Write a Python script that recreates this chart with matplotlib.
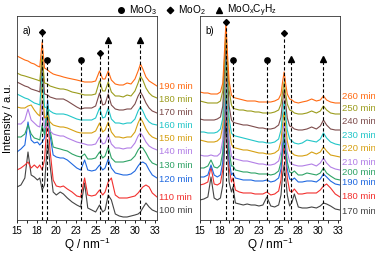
import matplotlib
matplotlib.use("Agg")
import matplotlib.pyplot as plt
from matplotlib.lines import Line2D
from matplotlib.ticker import MultipleLocator, FixedFormatter, FixedLocator

# Q grids (nm^-1) for the two panels
qa = [15.0, 15.5, 16.0, 16.4, 16.8, 17.2, 17.6, 17.9, 18.2, 18.5, 18.9, 19.2, 19.6, 20.0,
      20.5, 20.9, 21.4, 22.0, 22.6, 23.1, 23.6, 24.0, 24.5, 25.0, 25.5, 25.9, 26.2, 26.6,
      27.0, 27.5, 28.0, 28.5, 29.0, 29.5, 30.0, 30.4, 30.7, 31.0, 31.4, 31.8, 32.2, 32.8]
qb = [15.0, 15.5, 16.0, 16.4, 16.8, 17.2, 17.6, 17.9, 18.1, 18.3, 18.5, 18.7, 19.0, 19.2,
      19.5, 20.0, 20.5, 21.0, 21.5, 22.0, 22.5, 23.0, 23.5, 24.0, 24.5, 25.0, 25.3, 25.5,
      25.7, 25.9, 26.1, 26.4, 26.7, 27.0, 27.5, 28.0, 28.6, 29.2, 29.8, 30.3, 30.7, 31.1,
      31.6, 32.2, 32.8]

# panel a) 100-190 min, stacked intensities (a.u.)
a_100 = [33, 35, 42, 68, 45, 43, 40, 42, 30, 35, 80, 55, 28, 25, 28, 26, 22, 18, 15, 13, 37,
         12, 10, 8, 15, 8, 10, 25, 20, 6, 4, 3, 3, 4, 5, 6, 8, 12, 17, 13, 10, 8]
a_110 = [50, 52, 55, 58, 52, 55, 52, 55, 50, 60, 105, 70, 40, 34, 33, 34, 31, 28, 24, 23, 42,
         25, 24, 25, 30, 25, 28, 38, 42, 25, 22, 22, 22, 23, 24, 27, 30, 33, 35, 33, 27, 23]
a_120 = [68, 71, 75, 98, 80, 77, 78, 75, 78, 82, 120, 85, 65, 63, 62, 62, 60, 56, 52, 50, 60,
         50, 49, 50, 55, 50, 52, 61, 52, 47, 46, 45, 45, 46, 49, 54, 57, 58, 56, 50, 45, 42]
a_130 = [83, 83, 86, 95, 86, 82, 81, 80, 95, 85, 115, 90, 73, 72, 71, 70, 69, 66, 64, 63, 66,
         61, 61, 62, 68, 62, 64, 73, 62, 58, 58, 58, 59, 60, 64, 70, 73, 72, 67, 61, 57, 55]
a_140 = [96, 96, 100, 111, 100, 97, 94, 93, 120, 92, 95, 89, 86, 85, 84, 84, 82, 80, 78, 77,
         76, 75, 75, 76, 83, 76, 77, 85, 76, 72, 72, 71, 72, 72, 77, 84, 87, 84, 78, 74, 72, 70]
a_150 = [113, 112, 112, 114, 115, 110, 106, 104, 140, 102, 104, 98, 95, 94, 93, 93, 92, 90, 88,
         87, 87, 87, 87, 89, 97, 88, 90, 98, 88, 83, 83, 82, 83, 83, 88, 97, 102, 98, 91, 86, 83, 81]
a_160 = [126, 124, 122, 121, 119, 117, 116, 115, 150, 113, 112, 109, 107, 106, 106, 106, 105,
         103, 101, 100, 100, 100, 100, 102, 112, 102, 103, 112, 101, 97, 97, 96, 97, 97, 101,
         109, 113, 109, 102, 98, 96, 95]
a_170 = [138, 136, 134, 133, 131, 130, 129, 128, 160, 126, 125, 123, 122, 121, 121, 121, 119,
         116, 113, 111, 112, 112, 112, 114, 127, 115, 116, 126, 115, 111, 110, 110, 111, 111,
         116, 124, 128, 124, 117, 112, 109, 107]
a_180 = [147, 145, 144, 143, 142, 141, 140, 139, 165, 137, 136, 134, 133, 132, 131, 131, 130,
         128, 127, 126, 125, 125, 125, 126, 139, 129, 129, 138, 128, 124, 124, 123, 125, 124,
         129, 137, 144, 140, 132, 127, 124, 122]
a_190 = [164, 162, 160, 159, 157, 156, 154, 153, 178, 152, 150, 148, 146, 145, 144, 143, 142,
         141, 140, 139, 138, 138, 138, 139, 149, 141, 141, 149, 140, 136, 135, 135, 137, 136,
         141, 149, 156, 151, 143, 139, 137, 134]

# panel b) 170-260 min
b_170 = [20, 21, 23, 43, 22, 20, 22, 35, 68, 100, 68, 38, 28, 33, 17, 16, 15, 16, 15, 15, 14,
         15, 23, 14, 13, 15, 25, 45, 55, 42, 25, 14, 18, 26, 13, 12, 12, 13, 12, 14, 17, 16, 14, 11, 10]
b_180 = [35, 36, 38, 53, 36, 35, 37, 50, 86, 118, 86, 52, 38, 42, 30, 28, 27, 27, 27, 26, 26,
         26, 28, 25, 26, 29, 40, 62, 75, 60, 42, 29, 28, 31, 26, 26, 27, 27, 27, 30, 34, 36, 32, 26, 23]
b_190 = [43, 43, 45, 55, 45, 43, 45, 58, 94, 128, 94, 60, 45, 47, 42, 41, 40, 40, 40, 39, 39,
         39, 40, 38, 39, 42, 51, 70, 82, 68, 51, 41, 40, 42, 38, 38, 39, 39, 38, 41, 46, 43, 39, 36, 35]
b_200 = [52, 52, 54, 60, 53, 52, 55, 68, 104, 138, 104, 70, 54, 54, 50, 49, 48, 48, 47, 47, 46,
         46, 46, 45, 46, 49, 58, 76, 88, 74, 58, 48, 47, 49, 45, 45, 47, 46, 45, 47, 52, 47, 44, 41, 40]
b_210 = [65, 64, 64, 65, 64, 64, 67, 80, 116, 148, 116, 80, 64, 62, 61, 60, 59, 59, 58, 57, 56,
         56, 55, 55, 56, 59, 68, 86, 98, 84, 68, 58, 56, 55, 54, 54, 55, 56, 54, 57, 62, 57, 53, 51, 50]
b_220 = [80, 79, 78, 78, 78, 79, 82, 94, 126, 158, 126, 92, 76, 73, 72, 71, 70, 70, 69, 68, 67,
         67, 66, 66, 67, 70, 79, 96, 108, 94, 79, 69, 67, 65, 64, 64, 65, 68, 66, 68, 73, 69, 65, 64, 63]
b_230 = [88, 88, 87, 87, 87, 88, 91, 102, 136, 168, 136, 102, 87, 85, 84, 83, 82, 81, 80, 79, 78,
         78, 77, 77, 78, 81, 90, 106, 118, 104, 90, 81, 79, 77, 76, 77, 80, 79, 78, 81, 87, 82, 78, 76, 75]
b_240 = [101, 100, 100, 100, 100, 101, 103, 114, 146, 178, 146, 114, 100, 98, 97, 96, 95, 95, 94,
         93, 92, 92, 91, 91, 92, 95, 103, 118, 130, 116, 102, 94, 93, 91, 90, 90, 91, 93, 91, 94,
         100, 95, 91, 90, 90]
b_250 = [119, 118, 117, 117, 117, 117, 119, 129, 158, 188, 158, 130, 115, 112, 111, 110, 110, 109,
         109, 108, 108, 107, 107, 107, 108, 110, 116, 128, 138, 126, 116, 110, 109, 107, 106, 106,
         107, 109, 107, 109, 114, 110, 107, 106, 106]
b_260 = [128, 127, 127, 126, 126, 126, 128, 137, 166, 198, 166, 139, 125, 123, 122, 121, 120, 119,
         119, 119, 118, 118, 118, 118, 119, 121, 126, 138, 148, 136, 126, 121, 120, 118, 117, 118,
         119, 121, 119, 120, 124, 120, 118, 117, 117]

times_a = ["100 min", "110 min", "120 min", "130 min", "140 min",
           "150 min", "160 min", "170 min", "180 min", "190 min"]
times_b = ["170 min", "180 min", "190 min", "200 min", "210 min",
           "220 min", "230 min", "240 min", "250 min", "260 min"]
colors = ["#444444", "#f2302e", "#1f68e0", "#2ea366", "#b27fe6",
          "#d6a012", "#22c6c8", "#7d4c4c", "#9b9c1c", "#ff6a12"]

# where the time labels sit on the right of each panel (same a.u. scale)
label_y_a = [9, 22, 40, 54, 68, 81, 94, 107, 120, 133]
label_y_b = [8, 23, 37, 47, 57, 71, 84, 98, 111, 123]

# reference lines: (Q, marker, marker height)
refs_a = [(18.21, "D", 188), (18.85, "o", 160), (23.12, "o", 160),
          (25.53, "D", 167), (26.63, "^", 180), (30.70, "^", 180)]
refs_b = [(18.30, "D", 198), (19.15, "o", 160), (23.50, "o", 160),
          (25.66, "D", 187), (26.60, "^", 161), (30.70, "^", 161)]

xticks = [15, 17.5, 20, 22.5, 25, 27.5, 30, 32.5]
xticklabels = ["15", "18", "20", "23", "25", "28", "30", "33"]

plt.rcParams["font.family"] = ["Liberation Sans", "DejaVu Sans"]
plt.rcParams["mathtext.fontset"] = "custom"
plt.rcParams["mathtext.rm"] = "Liberation Sans"
plt.rcParams["mathtext.it"] = "Liberation Sans"

fig = plt.figure(figsize=(3.75, 2.54), dpi=100)
ax_a = fig.add_axes([0.0453, 0.1339, 0.3733, 0.8031])
ax_b = fig.add_axes([0.5333, 0.1339, 0.3733, 0.8031])


def draw(ax, q, curves, labels, label_y, refs, tag):
    for y, lab, ly, c in zip(curves, labels, label_y, colors):
        ax.plot(q, y, color=c, lw=0.8)
        ax.annotate(lab, xy=(1.0, ly), xycoords=("axes fraction", "data"),
                    xytext=(1.5, 0), textcoords="offset points",
                    color=c, fontsize=6.8, va="center", ha="left",
                    annotation_clip=False)
    for qq, m, h in refs:
        ax.plot([qq, qq], [0, h], color="black", lw=0.8, ls=(0, (3, 2)), zorder=5)
        ax.plot(qq, h, marker=m, color="black", ms=3.8 if m != "D" else 3.0, zorder=6)
    ax.set_xlim(15, 32.8)
    ax.set_ylim(0, 204)
    ax.set_yticks([])
    ax.xaxis.set_major_locator(FixedLocator(xticks))
    ax.xaxis.set_major_formatter(FixedFormatter(xticklabels))
    ax.xaxis.set_minor_locator(MultipleLocator(1.25))
    ax.tick_params(axis="x", which="both", direction="out", length=2.5, width=0.6,
                   labelsize=7, pad=1.5)
    ax.set_xlabel(r"Q / nm$^{-1}$", fontsize=8.5, labelpad=0)
    for s in ax.spines.values():
        s.set_linewidth(0.6)
        s.set_color("#333333")
    ax.text(0.04, 0.95, tag, transform=ax.transAxes, fontsize=7, va="top", ha="left")


draw(ax_a, qa, [a_100, a_110, a_120, a_130, a_140, a_150, a_160, a_170, a_180, a_190],
     times_a, label_y_a, refs_a, "a)")
draw(ax_b, qb, [b_170, b_180, b_190, b_200, b_210, b_220, b_230, b_240, b_250, b_260],
     times_b, label_y_b, refs_b, "b)")

ax_a.set_ylabel("Intensity / a.u.", fontsize=8, labelpad=3)

handles = [Line2D([], [], ls="none", marker="o", color="black", ms=4),
           Line2D([], [], ls="none", marker="D", color="black", ms=3.3),
           Line2D([], [], ls="none", marker="^", color="black", ms=4.5)]
fig.legend(handles, [r"MoO$_3$", r"MoO$_2$", r"MoO$_x$C$_y$H$_z$"],
           loc="upper center", bbox_to_anchor=(0.525, 1.025), ncol=3, frameon=False,
           fontsize=7.3, handlelength=0.8, handletextpad=0.3, columnspacing=1.0)

fig.savefig("out.png", dpi=100)
